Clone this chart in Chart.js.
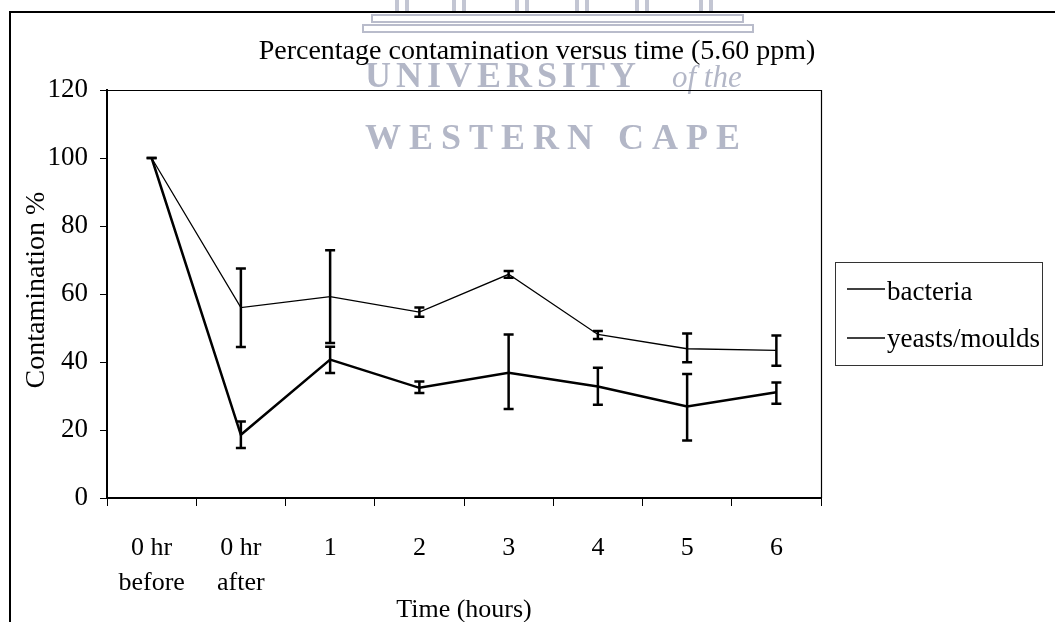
<!DOCTYPE html>
<html>
<head>
<meta charset="utf-8">
<script src="https://cdn.jsdelivr.net/npm/chart.js@4.4.0/dist/chart.umd.min.js"></script>
<style>
  html, body { margin: 0; padding: 0; background: #fff; }
  #wrap { width: 1055px; height: 622px; }
</style>
</head>
<body>
<div id="wrap"><canvas id="chart" width="1055" height="622"></canvas></div>
<script>
const categories = [['0 hr', 'before'], ['0 hr', 'after'], '1', '2', '3', '4', '5', '6'];

const bacteria     = [100, 18.6, 40.7, 32.4, 36.8, 32.8, 26.9, 31.1];
const bacteriaLow  = [100, 14.7, 36.8, 30.9, 26.2, 27.4, 16.9, 27.7];
const bacteriaHigh = [100, 22.5, 44.5, 34.3, 48.1, 38.3, 36.5, 34.0];

const yeasts     = [100, 56.0, 59.2, 54.7, 65.8, 48.1, 43.9, 43.4];
const yeastsLow  = [100, 44.4, 45.6, 53.3, 64.8, 46.8, 39.9, 38.9];
const yeastsHigh = [100, 67.5, 72.9, 56.0, 66.8, 49.1, 48.4, 47.8];

const yTicks = [0, 20, 40, 60, 80, 100, 120];

const titleText = 'Percentage contamination versus time (5.60 ppm)';
const xTitle = 'Time (hours)';
const yTitle = 'Contamination %';

const SERIF = '"Liberation Serif", "Times New Roman", serif';

// error bars drawn through the chart scales
const errorBars = {
  id: 'errorBars',
  afterDatasetsDraw(chart) {
    const ctx = chart.ctx;
    const x = chart.scales.x, y = chart.scales.y;
    chart.data.datasets.forEach(ds => {
      ctx.save();
      ctx.strokeStyle = '#000';
      ctx.lineWidth = 2.5;
      ds.low.forEach((lo, i) => {
        const px = x.getPixelForValue(i);
        const top = y.getPixelForValue(ds.high[i]);
        const bot = y.getPixelForValue(lo);
        ctx.beginPath();
        ctx.moveTo(px, top); ctx.lineTo(px, bot);
        ctx.moveTo(px - 5, top); ctx.lineTo(px + 5, top);
        ctx.moveTo(px - 5, bot); ctx.lineTo(px + 5, bot);
        ctx.stroke();
      });
      ctx.restore();
    });
  }
};

// scan frame, watermark, titles, plot box and legend
const decor = {
  id: 'decor',
  beforeDraw(chart) {
    const ctx = chart.ctx;
    ctx.save();
    ctx.fillStyle = '#fff';
    ctx.fillRect(0, 0, chart.width, chart.height);

    // watermark logo
    ctx.strokeStyle = '#b9bccb';
    ctx.lineWidth = 2;
    ctx.strokeRect(372, 15, 371, 7);
    ctx.strokeRect(363, 25, 390, 7);
    [403, 460, 523, 583, 643, 707].forEach(cx => {
      ctx.fillStyle = '#c3c6d3';
      ctx.fillRect(cx - 8, 0, 4, 11);
      ctx.fillRect(cx + 2, 0, 4, 11);
    });

    // watermark text
    ctx.fillStyle = '#b3b7c7';
    ctx.textBaseline = 'alphabetic';
    ctx.textAlign = 'left';
    ctx.font = 'bold 36px ' + SERIF;
    ctx.letterSpacing = '5px';
    ctx.fillText('UNIVERSITY', 365, 87);
    ctx.letterSpacing = '0px';
    ctx.font = 'italic 31px ' + SERIF;
    ctx.fillText('of the', 672, 87);
    ctx.font = 'bold 36px ' + SERIF;
    ctx.letterSpacing = '8px';
    ctx.fillText('WESTERN CAPE', 365, 149);
    ctx.letterSpacing = '0px';
    ctx.restore();
  },
  afterDraw(chart) {
    const ctx = chart.ctx;
    const a = chart.chartArea;
    ctx.save();

    // outer frame of the scanned page
    ctx.strokeStyle = '#000';
    ctx.lineWidth = 2;
    ctx.beginPath();
    ctx.moveTo(10, 622); ctx.lineTo(10, 12); ctx.lineTo(1055, 12);
    ctx.stroke();

    // plot box top and right
    ctx.lineWidth = 1.2;
    ctx.beginPath();
    ctx.moveTo(a.left, a.top + 0.5); ctx.lineTo(a.right + 0.5, a.top + 0.5); ctx.lineTo(a.right + 0.5, a.bottom);
    ctx.stroke();

    ctx.fillStyle = '#000';
    ctx.textAlign = 'center';
    ctx.textBaseline = 'alphabetic';
    ctx.font = '28px ' + SERIF;
    ctx.fillText(titleText, 537, 59);
    ctx.font = '26px ' + SERIF;
    ctx.fillText(xTitle, (a.left + a.right) / 2, 617);

    ctx.save();
    ctx.font = '28px ' + SERIF;
    ctx.translate(44, 290);
    ctx.rotate(-Math.PI / 2);
    ctx.fillText(yTitle, 0, 0);
    ctx.restore();

    // legend
    ctx.font = '27px ' + SERIF;
    ctx.lineWidth = 1;
    ctx.strokeStyle = '#333';
    ctx.strokeRect(835.5, 262.5, 207, 103);
    ctx.textAlign = 'left';
    const rows = [[289, 300], [338, 347]];
    chart.data.datasets.forEach((ds, i) => {
      ctx.strokeStyle = ds.borderColor;
      ctx.lineWidth = 1.5;
      ctx.beginPath();
      ctx.moveTo(847, rows[i][0]); ctx.lineTo(885, rows[i][0]);
      ctx.stroke();
      ctx.fillText(ds.label, 887, rows[i][1]);
    });
    ctx.restore();
  }
};

const ctx = document.getElementById('chart').getContext('2d');

new Chart(ctx, {
  type: 'line',
  data: {
    labels: categories,
    datasets: [
      {
        label: 'bacteria',
        data: bacteria,
        low: bacteriaLow,
        high: bacteriaHigh,
        borderColor: '#000',
        borderWidth: 2.5,
        pointRadius: 0,
        tension: 0,
        fill: false
      },
      {
        label: 'yeasts/moulds',
        data: yeasts,
        low: yeastsLow,
        high: yeastsHigh,
        borderColor: '#000',
        borderWidth: 1.3,
        pointRadius: 0,
        tension: 0,
        fill: false
      }
    ]
  },
  options: {
    responsive: false,
    animation: false,
    devicePixelRatio: 1,
    layout: { padding: { top: 90, right: 234, left: 0, bottom: 0 } },
    scales: {
      x: {
        offset: true,
        grid: { offset: true, drawOnChartArea: false, tickLength: 8, color: '#000', lineWidth: 1 },
        border: { color: '#000', width: 2 },
        ticks: {
          color: '#000',
          padding: 25,
          maxRotation: 0,
          autoSkip: false,
          font: { family: SERIF, size: 26, lineHeight: 1.35 }
        },
        afterFit(scale) { scale.height = 124; }
      },
      y: {
        min: 0,
        max: 120,
        afterBuildTicks(scale) { scale.ticks = yTicks.map(v => ({ value: v })); },
        grid: { drawOnChartArea: false, tickLength: 7, color: '#000', lineWidth: 1 },
        border: { color: '#000', width: 2 },
        ticks: {
          color: '#000',
          padding: 12,
          font: { family: SERIF, size: 27 }
        },
        afterFit(scale) { scale.width = 107; }
      }
    },
    plugins: {
      legend: { display: false },
      title: { display: false },
      tooltip: { enabled: false }
    }
  },
  plugins: [decor, errorBars]
});
</script>
</body>
</html>
